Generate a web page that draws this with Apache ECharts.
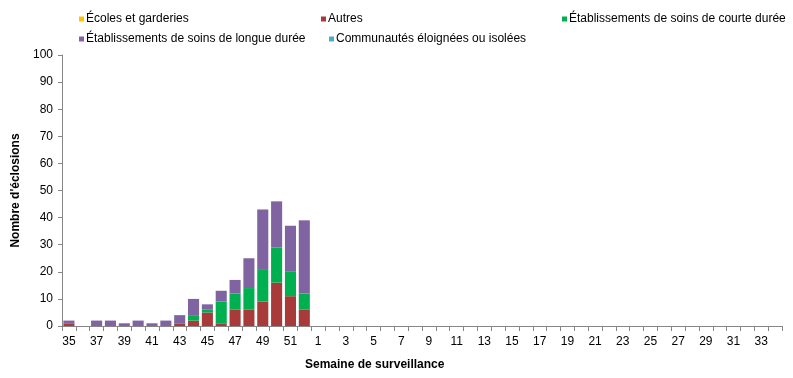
<!DOCTYPE html>
<html>
<head>
<meta charset="utf-8">
<script src="https://cdn.jsdelivr.net/npm/echarts@6/dist/echarts.min.js"></script>
<style>
html,body{margin:0;padding:0;background:#fff;}
#chart{width:793px;height:378px;}
</style>
</head>
<body>
<div id="chart"></div>
<script>
const weeks = ['35','36','37','38','39','40','41','42','43','44','45','46','47','48','49','50','51','52',
  '1','2','3','4','5','6','7','8','9','10','11','12','13','14','15','16','17','18','19','20','21','22','23','24','25','26','27','28','29','30','31','32','33','34'];
const ecoles =      [0,0,0,0,0,0,0,0,0,0,0,0,0,0,0,0,0,0, 0,0,0,0,0,0,0,0,0,0,0,0,0,0,0,0,0,0,0,0,0,0,0,0,0,0,0,0,0,0,0,0,0,0];
const autres =      [1,0,0,0,0,0,0,0,1,2,5,1,6,6,9,16,11,6, 0,0,0,0,0,0,0,0,0,0,0,0,0,0,0,0,0,0,0,0,0,0,0,0,0,0,0,0,0,0,0,0,0,0];
const courte =      [0,0,0,0,0,0,0,0,0,2,1,8,6,8,12,13,9,6, 0,0,0,0,0,0,0,0,0,0,0,0,0,0,0,0,0,0,0,0,0,0,0,0,0,0,0,0,0,0,0,0,0,0];
const longue =      [1,0,2,2,1,2,1,2,3,6,2,4,5,11,22,17,17,27, 0,0,0,0,0,0,0,0,0,0,0,0,0,0,0,0,0,0,0,0,0,0,0,0,0,0,0,0,0,0,0,0,0,0];
const communautes = [0,0,0,0,0,0,0,0,0,0,0,0,0,0,0,0,0,0, 0,0,0,0,0,0,0,0,0,0,0,0,0,0,0,0,0,0,0,0,0,0,0,0,0,0,0,0,0,0,0,0,0,0];

const names = ['Écoles et garderies','Autres','Établissements de soins de courte durée','Établissements de soins de longue durée','Communautés éloignées ou isolées'];
const colors = ['#FFC000','#A83A3A','#00B050','#8064A2','#4BACC6'];
const values = [ecoles, autres, courte, longue, communautes];
const legendPos = [[79,13],[321,13],[562,13],[79,33],[329,33]];

const font = '"Liberation Sans", Arial, sans-serif';
const chart = echarts.init(document.getElementById('chart'), null, {renderer:'canvas'});
chart.setOption({
  animation:false,
  backgroundColor:'#fff',
  color: colors,
  textStyle:{fontFamily:font},
  legend: names.map((n,i)=>({
    data:[n], left:legendPos[i][0], top:legendPos[i][1], padding:0,
    itemWidth:5, itemHeight:5, icon:'rect', selectedMode:false,
    textStyle:{fontFamily:font, fontSize:12, color:'#000', padding:[0,0,0,-3]}
  })),
  grid:{left:62, right:11, top:55, bottom:52},
  xAxis:{
    type:'category', data:weeks, boundaryGap:true,
    axisLine:{lineStyle:{color:'#868686'}},
    axisTick:{show:true, interval:0, length:5, lineStyle:{color:'#868686'}},
    axisLabel:{interval:1, color:'#000', fontSize:12, fontFamily:font, margin:10}
  },
  yAxis:{
    type:'value', min:0, max:100, interval:10,
    name:"Nombre d'éclosions", nameLocation:'middle', nameGap:40,
    nameTextStyle:{fontWeight:'bold', fontSize:12, color:'#000', fontFamily:font},
    splitLine:{show:false},
    axisLine:{show:true, lineStyle:{color:'#868686'}},
    axisTick:{show:true, length:4, lineStyle:{color:'#868686'}},
    axisLabel:{color:'#000', fontSize:12, fontFamily:font, margin:9}
  },
  graphic:[{
    type:'text', left:305, top:359,
    style:{text:'Semaine de surveillance', font:'bold 12px '+font, fill:'#000'}
  }],
  series: names.map((n,i)=>({
    name:n, type:'bar', stack:'total', data:values[i],
    barCategoryGap:'20%', itemStyle:{color:colors[i]}
  }))
});
</script>
</body>
</html>
